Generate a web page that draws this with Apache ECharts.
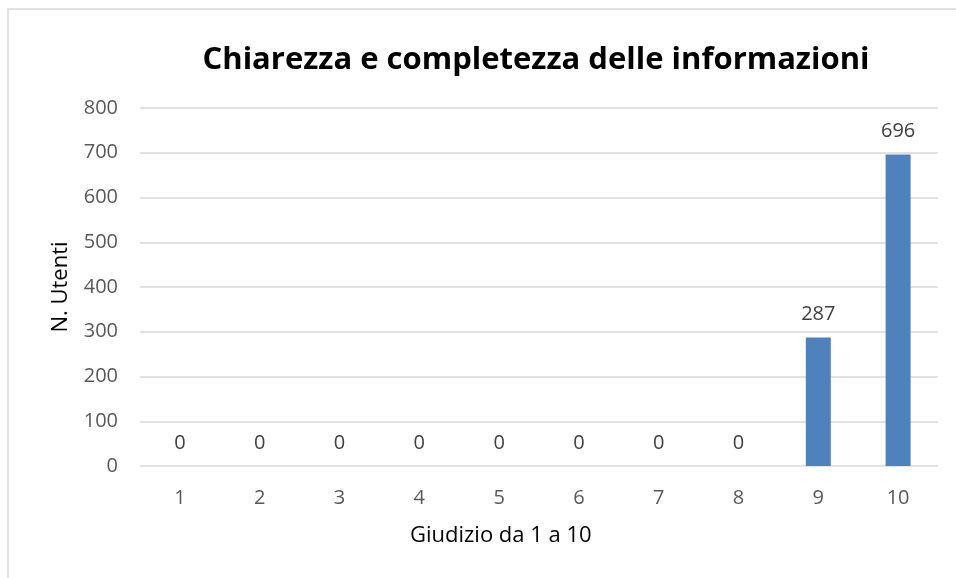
<!DOCTYPE html>
<html>
<head>
<meta charset="utf-8">
<script src="https://cdn.jsdelivr.net/npm/echarts@6/dist/echarts.min.js"></script>
<style>
  html, body { margin: 0; padding: 0; background: #fff; }
  #chart { width: 956px; height: 578px; }
</style>
</head>
<body>
<div id="chart"></div>
<script>
// dati
const categories = ['1', '2', '3', '4', '5', '6', '7', '8', '9', '10']
const utenti = [0, 0, 0, 0, 0, 0, 0, 0, 287, 696]
const titolo = 'Chiarezza e completezza delle informazioni'
const nomeX = 'Giudizio da 1 a 10'
const nomeY = 'N. Utenti'

const font = '"Open Sans", "Noto Sans", sans-serif'
const myChart = echarts.init(document.getElementById('chart'))

const option = {
    animation: false,
    backgroundColor: '#fff',
    title: {
        text: titolo,
        left: 531,
        top: 40,
        textAlign: 'center',
        textStyle: {
            fontFamily: font,
            fontWeight: 'bold',
            fontSize: 31,
            color: '#000'
        }
    },
    graphic: [{
        type: 'rect',
        shape: { x: 8, y: 9, width: 1000, height: 700 },
        style: { fill: 'none', stroke: '#d9d9d9', lineWidth: 1.5 },
        silent: true
    }, {
        type: 'text',
        left: 410,
        top: 525,
        style: {
            text: nomeX,
            font: '22px ' + font,
            fill: '#000'
        }
    }],
    grid: {
        left: 140,
        right: 18,
        top: 108,
        bottom: 112
    },
    xAxis: {
        type: 'category',
        data: categories,
        axisTick: { show: false },
        axisLine: { show: false },
        axisLabel: {
            color: '#595959',
            fontFamily: font,
            fontSize: 20,
            margin: 22
        }
    },
    yAxis: {
        type: 'value',
        min: 0,
        max: 800,
        interval: 100,
        name: nomeY,
        nameLocation: 'middle',
        nameGap: 68,
        nameTextStyle: {
            color: '#000',
            fontFamily: font,
            fontSize: 22
        },
        axisLabel: {
            color: '#595959',
            fontFamily: font,
            fontSize: 20,
            margin: 22
        },
        axisLine: { show: false },
        axisTick: { show: false },
        splitLine: {
            lineStyle: { color: '#d9d9d9', width: 1.5 }
        }
    },
    series: [{
        type: 'bar',
        data: utenti,
        barWidth: 25,
        itemStyle: {
            color: '#4f81bd'
        },
        label: {
            show: true,
            position: 'top',
            distance: 13,
            color: '#404040',
            fontFamily: font,
            fontSize: 20
        }
    }]
}

myChart.setOption(option)
</script>
</body>
</html>
